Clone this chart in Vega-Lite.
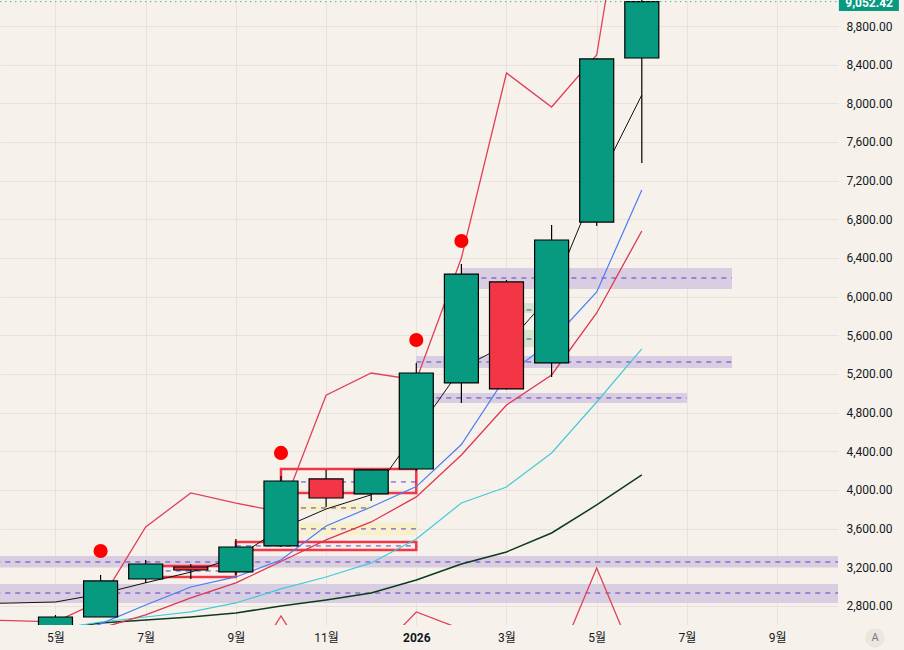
{
  "$schema": "https://vega.github.io/schema/vega-lite/v6.json",
  "width": 838,
  "height": 625,
  "autosize": "none",
  "padding": {"left": 0, "top": 0, "right": 66, "bottom": 25},
  "background": "#f6f2eb",
  "config": {"view": {"stroke": null}, "font": "Roboto"},
  "datasets": {
    "candles": [
      {"month": "2025-05", "i": 0, "open": 2560, "high": 2706, "low": 2540, "close": 2686},
      {"month": "2025-06", "i": 1, "open": 2686, "high": 3121, "low": 2686, "close": 3059},
      {"month": "2025-07", "i": 2, "open": 3079, "high": 3276, "low": 3038, "close": 3234},
      {"month": "2025-08", "i": 3, "open": 3203, "high": 3234, "low": 3079, "close": 3172},
      {"month": "2025-09", "i": 4, "open": 3152, "high": 3493, "low": 3121, "close": 3410},
      {"month": "2025-10", "i": 5, "open": 3421, "high": 4145, "low": 3410, "close": 4093},
      {"month": "2025-11", "i": 6, "open": 4114, "high": 4207, "low": 3824, "close": 3917},
      {"month": "2025-12", "i": 7, "open": 3959, "high": 4217, "low": 3886, "close": 4207},
      {"month": "2026-01", "i": 8, "open": 4217, "high": 5314, "low": 4200, "close": 5210},
      {"month": "2026-02", "i": 9, "open": 5107, "high": 6338, "low": 4900, "close": 6234},
      {"month": "2026-03", "i": 10, "open": 6152, "high": 6172, "low": 5040, "close": 5045},
      {"month": "2026-04", "i": 11, "open": 5314, "high": 6741, "low": 5169, "close": 6586},
      {"month": "2026-05", "i": 12, "open": 6772, "high": 8465, "low": 6731, "close": 8459},
      {"month": "2026-06", "i": 13, "open": 8469, "high": 9200, "low": 7383, "close": 9052.42}
    ],
    "ind": [
      {"i": -2, "black": 2822, "blue": 2300, "red": 2200, "cyan": 2300, "dkgreen": 2300, "upper": 2660, "lower": 2300},
      {"i": -1, "black": 2830, "blue": 2350, "red": 2250, "cyan": 2350, "dkgreen": 2350, "upper": 2648, "lower": 2300},
      {"i": 0, "black": 2841, "blue": 2450, "red": 2400, "cyan": 2560, "dkgreen": 2560, "upper": 2635, "lower": 2300},
      {"i": 1, "black": 2924, "blue": 2615, "red": 2570, "cyan": 2634, "dkgreen": 2624, "upper": 2852, "lower": 2300},
      {"i": 2, "black": 3040, "blue": 2810, "red": 2707, "cyan": 2686, "dkgreen": 2655, "upper": 3617, "lower": 2200},
      {"i": 3, "black": 3150, "blue": 2996, "red": 2883, "cyan": 2738, "dkgreen": 2686, "upper": 3969, "lower": 2100},
      {"i": 4, "black": 3300, "blue": 3100, "red": 3038, "cyan": 2831, "dkgreen": 2727, "upper": 3865, "lower": 1950},
      {"i": 5, "black": 3600, "blue": 3276, "red": 3260, "cyan": 2976, "dkgreen": 2800, "upper": 3772, "lower": 2697},
      {"i": 6, "black": 3803, "blue": 3627, "red": 3483, "cyan": 3100, "dkgreen": 2862, "upper": 4980, "lower": 1950},
      {"i": 7, "black": 3950, "blue": 3824, "red": 3669, "cyan": 3245, "dkgreen": 2934, "upper": 5210, "lower": 2250},
      {"i": 8, "black": 4600, "blue": 4035, "red": 3928, "cyan": 3493, "dkgreen": 3069, "upper": 5138, "lower": 2738},
      {"i": 9, "black": 5262, "blue": 4470, "red": 4362, "cyan": 3865, "dkgreen": 3234, "upper": 6400, "lower": 2560},
      {"i": 10, "black": 5500, "blue": 5179, "red": 4879, "cyan": 4031, "dkgreen": 3359, "upper": 8314, "lower": 2300},
      {"i": 11, "black": 6028, "blue": 5541, "red": 5190, "cyan": 4383, "dkgreen": 3555, "upper": 7962, "lower": 2076},
      {"i": 12, "black": 7155, "blue": 6048, "red": 5831, "cyan": 4910, "dkgreen": 3845, "upper": 8500, "lower": 3193},
      {"i": 13, "black": 8086, "blue": 7103, "red": 6679, "cyan": 5459, "dkgreen": 4155, "upper": 11345, "lower": 2076}
    ],
    "zones": [
      {"kind": "band", "x1": -2, "x2": 18, "lo": 3203, "hi": 3317, "mid": 3255},
      {"kind": "band", "x1": -2, "x2": 18, "lo": 2831, "hi": 3027, "mid": 2934},
      {"kind": "band", "x1": 9, "x2": 15, "lo": 6079, "hi": 6297, "mid": 6193},
      {"kind": "band", "x1": 8, "x2": 15, "lo": 5262, "hi": 5386, "mid": 5324},
      {"kind": "band", "x1": 8, "x2": 14, "lo": 4900, "hi": 5003, "mid": 4952},
      {"kind": "yellow", "x1": 5, "x2": 7, "lo": 3783, "hi": 3860, "mid": 3814},
      {"kind": "yellow", "x1": 5, "x2": 8, "lo": 3534, "hi": 3659, "mid": 3597},
      {"kind": "green", "x1": 10, "x2": 11, "lo": 5831, "hi": 5934, "mid": 5862},
      {"kind": "green", "x1": 10, "x2": 11, "lo": 5479, "hi": 5655, "mid": 5562}
    ],
    "boxes": [
      {"x1": 2, "x2": 4, "lo": 3100, "hi": 3214, "mid": 3162},
      {"x1": 4, "x2": 8, "lo": 3379, "hi": 3462, "mid": 3421},
      {"x1": 5, "x2": 8, "lo": 3969, "hi": 4217, "mid": 4083}
    ],
    "dots": [
      {"i": 1, "v": 3369},
      {"i": 5, "v": 4383},
      {"i": 8, "v": 5552},
      {"i": 9, "v": 6576}
    ],
    "last": [
      {"x1": -2, "x2": 17.37, "lx1": 17.37, "lx2": 18.7, "lxc": 18.04, "lo": 8955, "hi": 9140, "price": 9052.42, "label": "9,052.42"}
    ],
    "btn": [
      {"i": 18.17, "v": 2469, "label": "A"}
    ]
  },
  "layer": [
    {
      "data": {"name": "zones"},
      "mark": {"type": "rect", "clip": true},
      "encoding": {
        "x": {"field": "x1", "type": "quantitative", "title": null,
          "scale": {"domain": [-1.23, 17.35], "nice": false, "zero": false, "padding": 0},
          "axis": {"values": [0, 2, 4, 6, 8, 10, 12, 14, 16],
            "labelExpr": "datum.value == 8 ? '2026' : (((datum.value + 4) % 12) + 1) + '월'",
            "labelFont": "Roboto, 'Noto Sans CJK KR'", "labelFontSize": 12, "labelColor": "#131722",
            "labelFontWeight": {"condition": {"test": "datum.value == 8", "value": "bold"}, "value": "normal"},
            "labelPadding": 7, "ticks": false, "domain": false,
            "grid": true, "gridColor": "#e7e3dc", "gridWidth": 1}},
        "x2": {"field": "x2"},
        "y": {"field": "lo", "type": "quantitative", "title": null,
          "scale": {"domain": [2603, 9069], "nice": false, "zero": false, "padding": 0},
          "axis": {"orient": "right", "values": [2800, 3200, 3600, 4000, 4400, 4800, 5200, 5600, 6000, 6400, 6800, 7200, 7600, 8000, 8400, 8800],
            "format": ",.2f", "labelFont": "Roboto", "labelFontSize": 12, "labelColor": "#131722",
            "labelPadding": 8, "ticks": false, "domain": false,
            "grid": true, "gridColor": "#e7e3dc", "gridWidth": 1}},
        "y2": {"field": "hi"},
        "color": {"field": "kind", "type": "nominal", "legend": null,
          "scale": {"domain": ["band", "yellow", "green"], "range": ["#d9cde2", "#f8f0c8", "#d5e6cf"]}}
      }
    },
    {
      "data": {"name": "boxes"},
      "mark": {"type": "rect", "clip": true, "fill": null, "fillOpacity": 0, "stroke": "#f23645", "strokeWidth": 2.5},
      "encoding": {
        "x": {"field": "x1", "type": "quantitative", "title": null},
        "x2": {"field": "x2"},
        "y": {"field": "lo", "type": "quantitative", "title": null},
        "y2": {"field": "hi"}
      }
    },
    {
      "data": {"name": "zones"},
      "mark": {"type": "rule", "clip": true, "color": "#5e3fc4", "strokeWidth": 1, "strokeDash": [5, 5]},
      "encoding": {
        "x": {"field": "x1", "type": "quantitative", "title": null},
        "x2": {"field": "x2"},
        "y": {"field": "mid", "type": "quantitative", "title": null}
      }
    },
    {
      "data": {"name": "boxes"},
      "mark": {"type": "rule", "clip": true, "color": "#5e3fc4", "strokeWidth": 1, "strokeDash": [5, 5]},
      "encoding": {
        "x": {"field": "x1", "type": "quantitative", "title": null},
        "x2": {"field": "x2"},
        "y": {"field": "mid", "type": "quantitative", "title": null}
      }
    },
    {
      "data": {"name": "ind"},
      "mark": {"type": "line", "clip": true, "color": "#0b3a1c", "strokeWidth": 1.5},
      "encoding": {"x": {"field": "i", "type": "quantitative", "title": null}, "y": {"field": "dkgreen", "type": "quantitative", "title": null}}
    },
    {
      "data": {"name": "ind"},
      "mark": {"type": "line", "clip": true, "color": "#44c9dc", "strokeWidth": 1.2},
      "encoding": {"x": {"field": "i", "type": "quantitative", "title": null}, "y": {"field": "cyan", "type": "quantitative", "title": null}}
    },
    {
      "data": {"name": "ind"},
      "mark": {"type": "line", "clip": true, "color": "#e0364f", "strokeWidth": 1.3},
      "encoding": {"x": {"field": "i", "type": "quantitative", "title": null}, "y": {"field": "red", "type": "quantitative", "title": null}}
    },
    {
      "data": {"name": "ind"},
      "mark": {"type": "line", "clip": true, "color": "#4a7df5", "strokeWidth": 1.2},
      "encoding": {"x": {"field": "i", "type": "quantitative", "title": null}, "y": {"field": "blue", "type": "quantitative", "title": null}}
    },
    {
      "data": {"name": "ind"},
      "mark": {"type": "line", "clip": true, "color": "#e0405a", "strokeWidth": 1.3},
      "encoding": {"x": {"field": "i", "type": "quantitative", "title": null}, "y": {"field": "upper", "type": "quantitative", "title": null}}
    },
    {
      "data": {"name": "ind"},
      "mark": {"type": "line", "clip": true, "color": "#e0405a", "strokeWidth": 1.3},
      "encoding": {"x": {"field": "i", "type": "quantitative", "title": null}, "y": {"field": "lower", "type": "quantitative", "title": null}}
    },
    {
      "data": {"name": "ind"},
      "mark": {"type": "line", "clip": true, "color": "#111111", "strokeWidth": 1},
      "encoding": {"x": {"field": "i", "type": "quantitative", "title": null}, "y": {"field": "black", "type": "quantitative", "title": null}}
    },
    {
      "data": {"name": "candles"},
      "mark": {"type": "rule", "clip": true, "color": "#000000", "strokeWidth": 1.2},
      "encoding": {
        "x": {"field": "i", "type": "quantitative", "title": null},
        "y": {"field": "low", "type": "quantitative", "title": null},
        "y2": {"field": "high"}
      }
    },
    {
      "data": {"name": "candles"},
      "mark": {"type": "bar", "clip": true, "size": 34, "stroke": "#000000", "strokeWidth": 1.2, "orient": "vertical"},
      "encoding": {
        "x": {"field": "i", "type": "quantitative", "title": null},
        "y": {"field": "open", "type": "quantitative", "title": null},
        "y2": {"field": "close"},
        "fill": {"condition": {"test": "datum.close >= datum.open", "value": "#089981"}, "value": "#f23645"}
      }
    },
    {
      "data": {"name": "dots"},
      "mark": {"type": "circle", "clip": true, "size": 200, "color": "#ff0000", "opacity": 1},
      "encoding": {
        "x": {"field": "i", "type": "quantitative", "title": null},
        "y": {"field": "v", "type": "quantitative", "title": null}
      }
    },
    {
      "data": {"name": "last"},
      "mark": {"type": "rule", "clip": true, "color": "#089981", "strokeWidth": 1, "strokeDash": [1, 4]},
      "encoding": {
        "x": {"field": "x1", "type": "quantitative", "title": null},
        "x2": {"field": "x2"},
        "y": {"field": "price", "type": "quantitative", "title": null}
      }
    },
    {
      "data": {"name": "last"},
      "mark": {"type": "rect", "clip": false, "color": "#089981"},
      "encoding": {
        "x": {"field": "lx1", "type": "quantitative", "title": null},
        "x2": {"field": "lx2"},
        "y": {"field": "lo", "type": "quantitative", "title": null},
        "y2": {"field": "hi"}
      }
    },
    {
      "data": {"name": "last"},
      "mark": {"type": "text", "clip": false, "color": "#ffffff", "font": "Roboto", "fontSize": 12, "fontWeight": "bold", "baseline": "middle", "align": "center", "dy": 1.5},
      "encoding": {
        "x": {"field": "lxc", "type": "quantitative", "title": null},
        "y": {"field": "price", "type": "quantitative", "title": null},
        "text": {"field": "label"}
      }
    },
    {
      "data": {"name": "btn"},
      "mark": {"type": "circle", "clip": false, "size": 380, "color": "#ebe6de", "opacity": 1},
      "encoding": {
        "x": {"field": "i", "type": "quantitative", "title": null},
        "y": {"field": "v", "type": "quantitative", "title": null}
      }
    },
    {
      "data": {"name": "btn"},
      "mark": {"type": "text", "clip": false, "color": "#787b86", "font": "Roboto", "fontSize": 11, "baseline": "middle", "align": "center"},
      "encoding": {
        "x": {"field": "i", "type": "quantitative", "title": null},
        "y": {"field": "v", "type": "quantitative", "title": null},
        "text": {"field": "label"}
      }
    }
  ]
}
